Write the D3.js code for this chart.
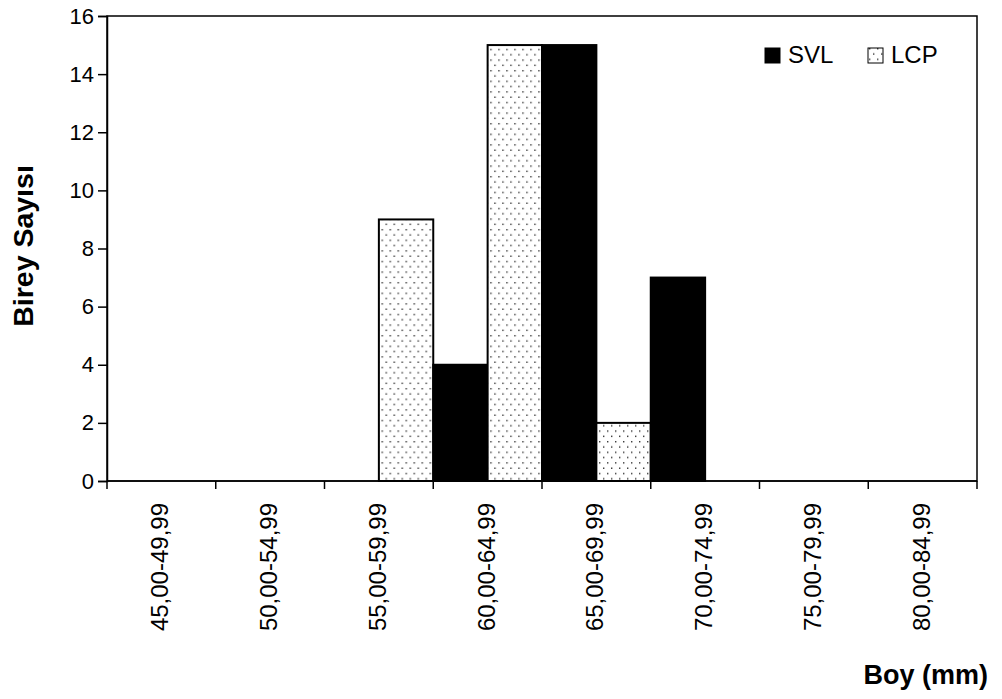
<!DOCTYPE html>
<html>
<head>
<meta charset="utf-8">
<script src="https://cdn.jsdelivr.net/npm/d3@7"></script>
<style>
  body { margin: 0; background: #fff; }
  svg { display: block; font-family: "Liberation Sans", Arial, sans-serif; }
</style>
</head>
<body>
<div id="chart"></div>
<script>
// Data
const categories = ["45,00-49,99", "50,00-54,99", "55,00-59,99", "60,00-64,99",
                    "65,00-69,99", "70,00-74,99", "75,00-79,99", "80,00-84,99"];
const svlValues = [0, 0, 0, 4, 15, 7, 0, 0];
const lcpValues = [0, 0, 9, 15, 2, 0, 0, 0];
const yTicks = [0, 2, 4, 6, 8, 10, 12, 14, 16];
const seriesNames = ["SVL", "LCP"];

const width = 1002, height = 699;
const margin = { top: 16, right: 25, bottom: 218, left: 107 };
const innerW = width - margin.left - margin.right;
const innerH = height - margin.top - margin.bottom;

const svg = d3.select("#chart").append("svg")
    .attr("width", width)
    .attr("height", height);

// Dotted fill pattern
const defs = svg.append("defs");
const pat = defs.append("pattern")
    .attr("id", "dots")
    .attr("patternUnits", "userSpaceOnUse")
    .attr("width", 8)
    .attr("height", 10.6);
pat.append("rect").attr("width", 8).attr("height", 10.6).attr("fill", "#fff");
pat.append("rect").attr("x", 1).attr("y", 1).attr("width", 1.4).attr("height", 1.4).attr("fill", "#333");
pat.append("rect").attr("x", 5).attr("y", 6.3).attr("width", 1.4).attr("height", 1.4).attr("fill", "#333");

const g = svg.append("g").attr("transform", `translate(${margin.left},${margin.top})`);

const x = d3.scaleBand().domain(categories).range([0, innerW]).padding(0);
const xs = d3.scaleBand().domain(seriesNames).range([0, x.bandwidth()]).padding(0);
const y = d3.scaleLinear().domain([0, 16]).range([innerH, 0]);

// Bars
const rows = categories.map((c, i) => ({ cat: c, SVL: svlValues[i], LCP: lcpValues[i] }));
const fills = { SVL: "#000", LCP: "url(#dots)" };

g.append("g").selectAll("g")
    .data(rows)
    .join("g")
    .attr("transform", d => `translate(${x(d.cat)},0)`)
    .selectAll("rect")
    .data(d => seriesNames.map(s => ({ s, v: d[s] })).filter(e => e.v > 0))
    .join("rect")
    .attr("x", d => xs(d.s))
    .attr("y", d => y(d.v))
    .attr("width", xs.bandwidth())
    .attr("height", d => innerH - y(d.v))
    .attr("fill", d => fills[d.s])
    .attr("stroke", "#000")
    .attr("stroke-width", 2);

// Frame
g.append("rect")
    .attr("width", innerW)
    .attr("height", innerH)
    .attr("fill", "none")
    .attr("stroke", "#000")
    .attr("stroke-width", 1.5);

// Y axis
const yAxis = g.append("g")
    .call(d3.axisLeft(y).tickValues(yTicks).tickSize(9).tickPadding(4));
yAxis.select(".domain").attr("stroke-width", 1.5);
yAxis.selectAll(".tick line").attr("stroke-width", 1.5);
yAxis.selectAll("text").attr("font-size", 22).attr("fill", "#000")
    .style("font-family", "'Liberation Sans', Arial, sans-serif");

// X axis: ticks at category boundaries
const xAxisG = g.append("g").attr("transform", `translate(0,${innerH})`);
xAxisG.append("line").attr("x1", 0).attr("x2", innerW).attr("stroke", "#000").attr("stroke-width", 1.5);
const bounds = categories.map(c => x(c)).concat([innerW]);
xAxisG.selectAll("line.tick")
    .data(bounds)
    .join("line")
    .attr("class", "tick")
    .attr("x1", d => d).attr("x2", d => d)
    .attr("y1", 0).attr("y2", 8)
    .attr("stroke", "#000").attr("stroke-width", 1.5);
xAxisG.selectAll("text")
    .data(categories)
    .join("text")
    .attr("transform", d => `translate(${x(d) + x.bandwidth() / 2 + 7},22) rotate(-90)`)
    .attr("text-anchor", "end")
    .attr("font-size", 24)
    .attr("fill", "#000")
    .text(d => d);

// Axis titles
svg.append("text")
    .attr("transform", "translate(33,246) rotate(-90)")
    .attr("text-anchor", "middle")
    .attr("font-size", 28.5)
    .attr("font-weight", "bold")
    .text("Birey Sayısı");

svg.append("text")
    .attr("x", 988)
    .attr("y", 684)
    .attr("text-anchor", "end")
    .attr("font-size", 27)
    .attr("font-weight", "bold")
    .text("Boy (mm)");

// Legend
const legend = svg.append("g").attr("transform", "translate(765,47)");
const legItems = [{ s: "SVL", x: 0 }, { s: "LCP", x: 103 }];
const li = legend.selectAll("g").data(legItems).join("g")
    .attr("transform", d => `translate(${d.x},0)`);
li.append("rect")
    .attr("y", 1)
    .attr("width", 15).attr("height", 15)
    .attr("fill", d => fills[d.s])
    .attr("stroke", "#000").attr("stroke-width", 1);
li.append("text")
    .attr("x", 23)
    .attr("y", 16)
    .attr("font-size", 24)
    .text(d => d.s);
</script>
</body>
</html>
